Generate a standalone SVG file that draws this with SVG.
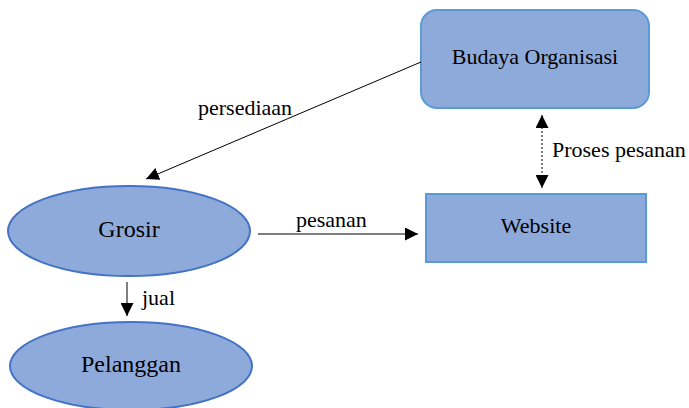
<svg xmlns="http://www.w3.org/2000/svg" width="689" height="408" viewBox="0 0 689 408">
  <style>
    .node { fill: #8eaadb; }
    .box { stroke: #5b9bd5; stroke-width: 2; }
    .oval { stroke: #4472c4; stroke-width: 2; }
    .mid { text-anchor: middle; }
    .edge { stroke: #000; stroke-width: 1; fill: none; }
    .dots { stroke-dasharray: 2 2; }
  </style>
  <defs>
    <marker id="arrowL" viewBox="0 0 12 12" refX="12" refY="6" markerWidth="13" markerHeight="13" markerUnits="userSpaceOnUse" orient="auto-start-reverse">
      <path d="M0,0 L12,6 L0,12 z" fill="#000"/>
    </marker>
  </defs>

  <g font-family="Liberation Serif, DejaVu Serif, serif" font-size="22" fill="#000">
    <g id="budaya-organisasi">
      <rect class="node box" x="421" y="10" width="228" height="98" rx="16" ry="16"/>
      <text class="mid" x="535" y="64" fill="#000">Budaya Organisasi</text>
    </g>

    <g id="website">
      <rect class="node box" x="426" y="194" width="220" height="68"/>
      <text class="mid" x="536" y="233" fill="#000">Website</text>
    </g>

    <g id="grosir">
      <ellipse class="node oval" cx="129" cy="231" rx="121" ry="45"/>
      <text class="mid" x="129" y="237" font-size="24" fill="#000">Grosir</text>
    </g>

    <g id="pelanggan">
      <ellipse class="node oval" cx="131" cy="366" rx="121" ry="44"/>
      <text class="mid" x="131" y="372" font-size="24" fill="#000">Pelanggan</text>
    </g>

    <g id="connectors">
      <line class="edge" x1="421" y1="62" x2="146" y2="179" marker-end="url(#arrowL)"/>
      <text x="198" y="115">persediaan</text>

      <line class="edge" x1="258" y1="234" x2="418" y2="234" marker-end="url(#arrowL)"/>
      <text x="296" y="227">pesanan</text>

      <line class="edge dots" x1="542" y1="115" x2="542" y2="188" marker-start="url(#arrowL)" marker-end="url(#arrowL)"/>
      <text x="552" y="157">Proses pesanan</text>

      <line class="edge" x1="127" y1="282" x2="127" y2="316" marker-end="url(#arrowL)"/>
      <text x="142" y="305">jual</text>
    </g>
  </g>
</svg>
